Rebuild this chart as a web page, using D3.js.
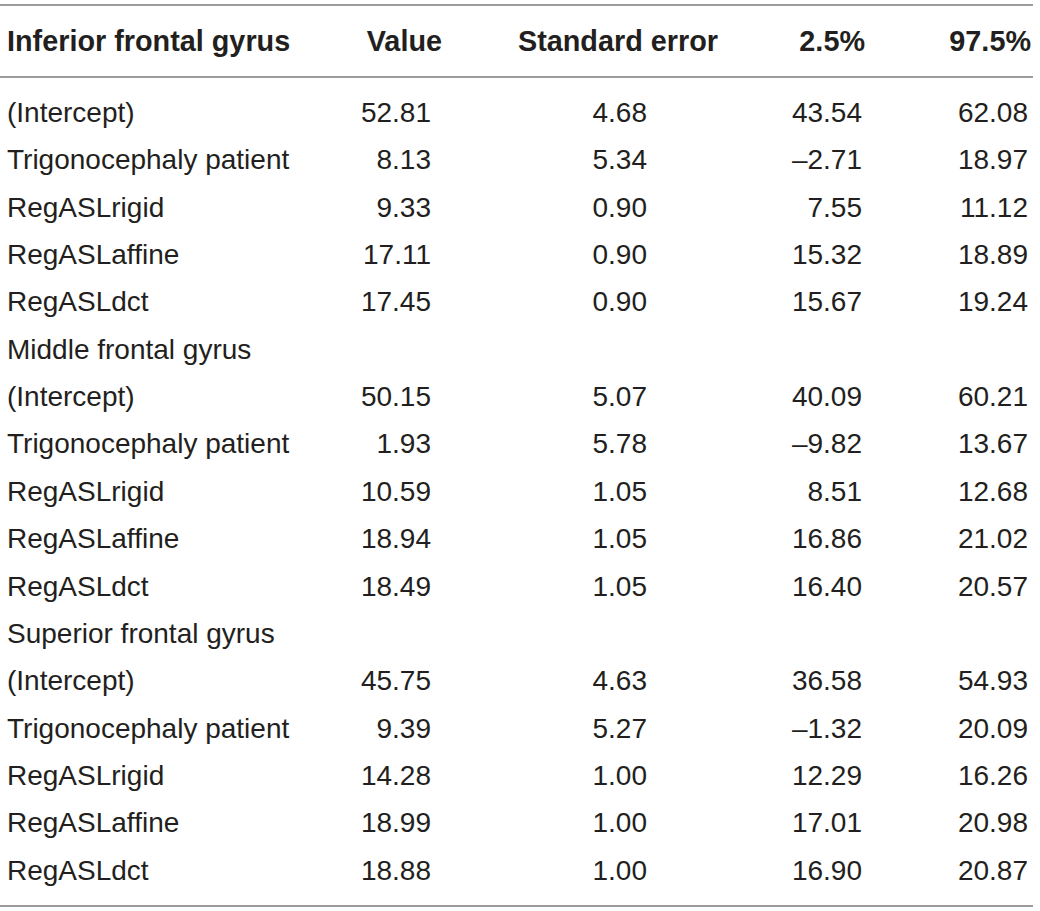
<!DOCTYPE html>
<html>
<head>
<meta charset="utf-8">
<script src="https://cdn.jsdelivr.net/npm/d3@7"></script>
<style>
  body { margin: 0; background: #fff; }
  text { font-family: "Liberation Sans", Arial, Helvetica, sans-serif; fill: #231f20; }
</style>
</head>
<body>
<div id="table_chart"></div>
<script>
//Width and height
var w = 1040;
var h = 911;

//Column headers
var headers = ["Inferior frontal gyrus", "Value", "Standard error", "2.5%", "97.5%"];

//Row labels (section titles have no values)
var rowLabels = [
"(Intercept)", "Trigonocephaly patient", "RegASLrigid", "RegASLaffine", "RegASLdct",
"Middle frontal gyrus",
"(Intercept)", "Trigonocephaly patient", "RegASLrigid", "RegASLaffine", "RegASLdct",
"Superior frontal gyrus",
"(Intercept)", "Trigonocephaly patient", "RegASLrigid", "RegASLaffine", "RegASLdct"
];

//Values per column, null for section rows
var values = [52.81, 8.13, 9.33, 17.11, 17.45, null, 50.15, 1.93, 10.59, 18.94, 18.49, null, 45.75, 9.39, 14.28, 18.99, 18.88];
var stdErrors = [4.68, 5.34, 0.90, 0.90, 0.90, null, 5.07, 5.78, 1.05, 1.05, 1.05, null, 4.63, 5.27, 1.00, 1.00, 1.00];
var lower = [43.54, -2.71, 7.55, 15.32, 15.67, null, 40.09, -9.82, 8.51, 16.86, 16.40, null, 36.58, -1.32, 12.29, 17.01, 16.90];
var upper = [62.08, 18.97, 11.12, 18.89, 19.24, null, 60.21, 13.67, 12.68, 21.02, 20.57, null, 54.93, 20.09, 16.26, 20.98, 20.87];

var columns = [values, stdErrors, lower, upper];

//Right edges of numeric columns (body) and of header cells
var colRight = [431, 647, 862, 1028];
var headRight = [442, 718, 865, 1031];
var labelX = 7;
var bodySize = 28;
var headSize = 28.8;

var fmt = d3.format(".2f");

//Row scale
var yScale = d3.scalePoint()
.domain(d3.range(rowLabels.length))
.range([112, 870]);

//Create svg
var svg = d3.select("#table_chart")
.append("svg")
.attr("width", w)
.attr("height", h);

//Rules
svg.selectAll("line.rule")
.data([5, 77, 906])
.enter()
.append("line")
.attr("class", "rule")
.attr("x1", 0)
.attr("x2", 1033)
.attr("y1", function(d) { return d; })
.attr("y2", function(d) { return d; })
.attr("stroke", "#9b9b9b")
.attr("stroke-width", 2);

//Header
svg.append("g")
.selectAll("text")
.data(headers)
.enter()
.append("text")
.attr("x", function(d, i) { return i === 0 ? labelX : headRight[i - 1]; })
.attr("y", 41)
.attr("dy", "0.35em")
.attr("text-anchor", function(d, i) { return i === 0 ? "start" : "end"; })
.style("font-weight", "bold")
.style("font-size", headSize + "px")
.text(function(d) { return d; });

//Row labels
svg.append("g")
.selectAll("text")
.data(rowLabels)
.enter()
.append("text")
.attr("x", labelX)
.attr("y", function(d, i) { return yScale(i); })
.attr("dy", "0.35em")
.style("font-size", bodySize + "px")
.text(function(d) { return d; });

//Numeric cells (keep row index before dropping empty cells)
columns.forEach(function(col, c) {
	var cells = col.map(function(v, i) { return {v: v, row: i}; })
	.filter(function(d) { return d.v !== null; });

	svg.append("g")
	.selectAll("text")
	.data(cells)
	.enter()
	.append("text")
	.attr("x", colRight[c])
	.attr("y", function(d) { return yScale(d.row); })
	.attr("dy", "0.35em")
	.attr("text-anchor", "end")
	.style("font-size", bodySize + "px")
	.text(function(d) { return d.v < 0 ? "\u2013" + fmt(-d.v) : fmt(d.v); });
});
</script>
</body>
</html>
